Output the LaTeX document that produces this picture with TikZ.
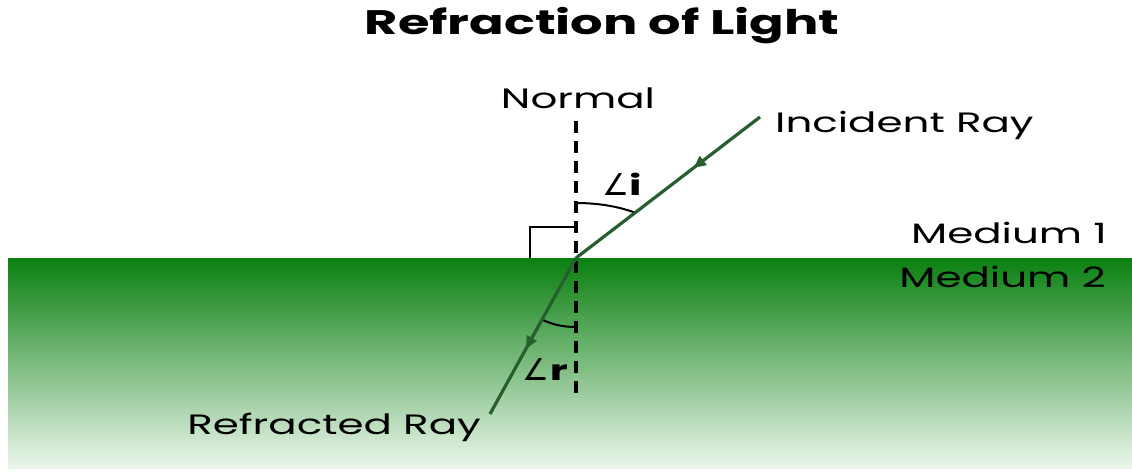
\documentclass[tikz,border=0pt]{standalone}
\usepackage{fontspec}
\setmainfont{Poppins}[FakeStretch=1.5]
\newfontfamily\symfont{DejaVu Sans}
\usetikzlibrary{arrows.meta,decorations.markings}
\definecolor{raygreen}{RGB}{38,94,46}
\definecolor{topgreen}{RGB}{10,128,16}
\definecolor{botgreen}{RGB}{236,246,236}
\begin{document}
\begin{tikzpicture}[x=1pt,y=-1pt,
  lbl/.style={inner sep=0pt,font=\fontsize{28}{28}\selectfont},
  ray/.style={draw=raygreen,line width=3.2pt},
  normalline/.style={draw=black,line width=3.6pt,dash pattern=on 12pt off 8pt},
  midarrow/.style={postaction={decorate},decoration={markings,mark=at position #1 with {\arrow{Triangle[width=11pt,length=12pt]}}}}]
\useasboundingbox (0,0) rectangle (1132,474);
\fill[white] (0,0) rectangle (1132,474);
\shade[top color=topgreen,bottom color=botgreen] (8,258) rectangle (1132,468);
\node[lbl,font=\fontsize{34}{34}\selectfont\bfseries] (title) at (602,26) {Refraction of Light};
\node[lbl] (normal) at (578,98) {Normal};
\node[lbl,anchor=west] (inc) at (775,125) {Incident Ray};
\node[lbl,anchor=east] (m1) at (1107,233) {Medium 1};
\node[lbl,anchor=east] (m2) at (1106,277) {Medium 2};
\node[lbl,anchor=east] (refr) at (481,427) {Refracted Ray};
\coordinate (O) at (576,258);
\coordinate (ntop) at (576,121);
\coordinate (nbot) at (576,393);
\coordinate (istart) at (760,117);
\coordinate (rend) at (490,414);
\coordinate (sq1) at (530,258);
\coordinate (sq2) at (530,227);
\coordinate (sq3) at (576,227);
\draw[normalline] (ntop) -- (nbot);
\draw[black,line width=2pt] (sq1) -- (sq2) -- (sq3);
\draw[black,line width=2pt] (576,203) .. controls (600,203) and (620,207) .. (636,213);
\draw[black,line width=2pt] (543,320) .. controls (553,325) and (565,327) .. (576,327);
\path[ray,midarrow=0.36] (istart) -- (O);
\path[ray,midarrow=0.58] (O) -- (rend);
\node[lbl,anchor=west] (angi) at (602,184) {{\symfont\fontsize{30}{30}\selectfont ∠}\textbf{i}};
\node[lbl,anchor=east] (angr) at (568,370) {{\symfont\fontsize{30}{30}\selectfont ∠}\textbf{r}};
\end{tikzpicture}
\end{document}
